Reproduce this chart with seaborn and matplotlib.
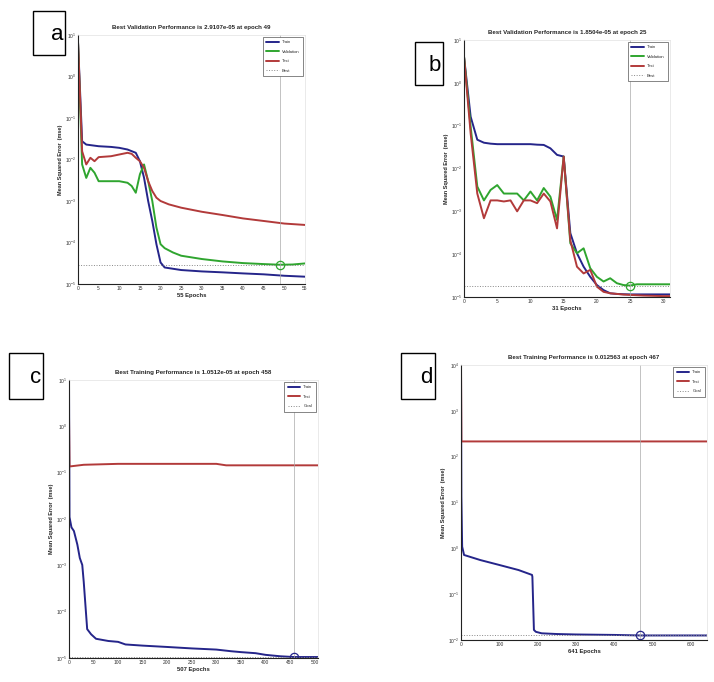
import matplotlib
matplotlib.use("Agg")
import matplotlib.pyplot as plt
import seaborn as sns
import pandas as pd
from matplotlib.patches import Rectangle
from matplotlib.ticker import NullFormatter, FixedLocator, LogFormatterMathtext

sns.set_theme(style="white")
plt.rcParams['font.family'] = ['Liberation Sans', 'DejaVu Sans']

# ---------------- Panel a ----------------
a_train_epochs = [0, 1, 2, 5, 8, 10, 12, 14, 15, 16, 17, 18, 19, 20, 21, 25, 30, 35, 40, 45, 50, 55]
a_train = [6.9, 0.0275, 0.0229, 0.0209, 0.0201, 0.0191, 0.0174, 0.0145, 0.0091, 0.00363, 0.001,
           3.3e-4, 9.1e-5, 3.3e-5, 2.5e-5, 2.17e-5, 2.01e-5, 1.91e-5, 1.80e-5, 1.71e-5, 1.58e-5, 1.50e-5]
a_val_epochs = [0, 1, 2, 3, 4, 5, 7, 10, 12, 13, 14, 15, 16, 17, 18, 19, 20, 21, 23, 25, 30, 35,
                40, 45, 49, 52, 55]
a_val = [6.9, 0.0076, 0.0036, 0.0063, 0.0048, 0.0030, 0.0030, 0.0030, 0.00275, 0.0023, 0.00158,
         0.0044, 0.0076, 0.0030, 0.001, 2.3e-4, 9.1e-5, 7.3e-5, 5.75e-5, 4.8e-5, 4.0e-5, 3.5e-5,
         3.19e-5, 3.02e-5, 2.91e-5, 2.95e-5, 3.13e-5]
a_test_epochs = [0, 1, 2, 3, 4, 5, 8, 10, 12, 13, 14, 15, 16, 17, 18, 19, 20, 22, 25, 30, 35, 40,
                 45, 50, 55]
a_test = [6.9, 0.0158, 0.0076, 0.011, 0.0091, 0.0114, 0.012, 0.0132, 0.0145, 0.0137, 0.011, 0.0091,
          0.0063, 0.0030, 0.00174, 0.0012, 0.001, 8.3e-4, 6.9e-4, 5.5e-4, 4.6e-4, 3.8e-4, 3.3e-4,
          2.86e-4, 2.65e-4]
a_best_epoch, a_best = 49, 2.91e-5
a_title = "Best Validation Performance is 2.9107e-05 at epoch 49"
a_xlabel = "55 Epochs"

# ---------------- Panel b ----------------
b_epochs = list(range(0, 32))
b_train = [4.1, 0.162, 0.047, 0.040, 0.038, 0.037, 0.037, 0.037, 0.037, 0.037, 0.037, 0.036,
           0.0355, 0.0296, 0.0208, 0.019, 3.1e-4, 1.05e-4, 5.1e-5, 2.96e-5, 1.9e-5, 1.45e-5,
           1.22e-5, 1.18e-5, 1.16e-5, 1.15e-5, 1.15e-5, 1.15e-5, 1.15e-5, 1.15e-5, 1.15e-5, 1.15e-5]
b_val = [4.1, 0.095, 0.0038, 0.0018, 0.00316, 0.0041, 0.0026, 0.0026, 0.0026, 0.0018, 0.0029,
         0.0018, 0.0035, 0.0022, 6.3e-4, 0.019, 1.8e-4, 1.05e-4, 1.37e-4, 4.7e-5, 2.96e-5, 2.3e-5,
         2.74e-5, 2.1e-5, 1.9e-5, 1.85e-5, 1.98e-5, 1.98e-5, 1.98e-5, 1.98e-5, 1.98e-5, 1.98e-5]
b_test = [4.1, 0.066, 0.0026, 6.9e-4, 0.0018, 0.0018, 0.0017, 0.0018, 0.001, 0.0018, 0.0018,
          0.00155, 0.0026, 0.0017, 4.0e-4, 0.019, 2.1e-4, 5.1e-5, 3.55e-5, 4.3e-5, 1.74e-5,
          1.32e-5, 1.22e-5, 1.18e-5, 1.14e-5, 1.12e-5, 1.1e-5, 1.08e-5, 1.07e-5, 1.06e-5, 1.05e-5,
          1.05e-5]
b_best_epoch, b_best = 25, 1.85e-5
b_title = "Best Validation Performance is 1.8504e-05 at epoch 25"
b_xlabel = "31 Epochs"

# ---------------- Panel c ----------------
c_train_epochs = [0, 1, 5, 10, 17, 22, 27, 30, 37, 45, 55, 80, 100, 115, 150, 200, 250, 300, 330,
                  350, 380, 400, 430, 458, 480, 507]
c_train = [11, 0.011, 0.0066, 0.0055, 0.0028, 0.00144, 0.00102, 4.4e-4, 4.2e-5, 3.25e-5, 2.6e-5,
           2.33e-5, 2.23e-5, 1.96e-5, 1.85e-5, 1.73e-5, 1.61e-5, 1.52e-5, 1.40e-5, 1.34e-5,
           1.27e-5, 1.17e-5, 1.09e-5, 1.05e-5, 1.05e-5, 1.05e-5]
c_test_epochs = [0, 1, 30, 100, 200, 300, 320, 400, 507]
c_test = [1.7, 0.136, 0.148, 0.155, 0.155, 0.155, 0.144, 0.144, 0.144]
c_best_epoch, c_best = 458, 1.05e-5
c_title = "Best Training Performance is 1.0512e-05 at epoch 458"
c_xlabel = "507 Epochs"

# ---------------- Panel d ----------------
d_train_epochs = [0, 1, 3, 5, 8, 50, 100, 150, 185, 186, 190, 195, 210, 250, 300, 400, 467, 641]
d_train = [1.1e4, 13.5, 1.09, 0.92, 0.716, 0.556, 0.433, 0.336, 0.263, 0.24, 0.0166, 0.0151,
           0.0140, 0.0135, 0.0132, 0.0129, 0.012563, 0.012563]
d_test_epochs = [0, 1, 641]
d_test = [1.1e4, 215, 215]
d_best_epoch, d_best = 467, 0.012563
d_title = "Best Training Performance is 0.012563 at epoch 467"
d_xlabel = "641 Epochs"

BLUE = "#25258a"
GREEN = "#2fa52f"
RED = "#b23a3a"

W, H = 714, 682
fig = plt.figure(figsize=(W / 100, H / 100), dpi=100)


def px_axes(l, t, r, b):
    return fig.add_axes([l / W, 1 - b / H, (r - l) / W, (b - t) / H])


def style(ax, xlim, xticks, ylim_exp, title, xlabel):
    ax.set_yscale("log")
    ax.set_xlim(*xlim)
    lo, hi = ylim_exp
    ax.set_ylim(10.0 ** lo, 10.0 ** hi)
    ax.xaxis.set_major_locator(FixedLocator(xticks))
    ax.yaxis.set_major_locator(FixedLocator([10.0 ** e for e in range(lo, hi + 1)]))
    ax.yaxis.set_major_formatter(LogFormatterMathtext())
    minors = [m * 10.0 ** e for e in range(lo, hi) for m in range(2, 10)]
    ax.yaxis.set_minor_locator(FixedLocator(minors))
    ax.yaxis.set_minor_formatter(NullFormatter())
    ax.tick_params(axis="both", which="major", labelsize=3.5, length=2, width=0.5, pad=1.5,
                   direction="in", colors="#333333")
    ax.tick_params(axis="y", which="minor", length=1, width=0.3, direction="in")
    ax.set_title(title, fontsize=4.4, fontweight="bold", pad=4)
    ax.set_xlabel(xlabel, fontsize=4.2, fontweight="bold", labelpad=1.5)
    ax.set_ylabel("Mean Squared Error  (mse)", fontsize=4, fontweight="bold", labelpad=1.5)
    for s in ["left", "bottom"]:
        ax.spines[s].set_color("#222222")
        ax.spines[s].set_linewidth(0.8)
    for s in ["top", "right"]:
        ax.spines[s].set_color("#e2e2e2")
        ax.spines[s].set_linewidth(0.5)
    ax.legend(loc="upper right", fontsize=3, frameon=True, fancybox=False, edgecolor="#555555",
              handlelength=3, borderpad=0.8, labelspacing=1.3, framealpha=1)
    ax.get_legend().get_frame().set_linewidth(0.5)


# Panel a
ax_a = px_axes(78, 35, 305, 284)
sns.lineplot(x=a_train_epochs, y=a_train, ax=ax_a, color=BLUE, lw=1.4, label="Train")
sns.lineplot(x=a_val_epochs, y=a_val, ax=ax_a, color=GREEN, lw=1.4, label="Validation")
sns.lineplot(x=a_test_epochs, y=a_test, ax=ax_a, color=RED, lw=1.4, label="Test")
ax_a.axhline(a_best, color="#888888", ls=":", lw=0.7, label="Best")
ax_a.axvline(a_best_epoch, color="#aaaaaa", lw=0.5)
ax_a.plot([a_best_epoch], [a_best], marker="o", ms=6, mfc="none", mec=GREEN, mew=0.9)
style(ax_a, (0, 55), list(range(0, 56, 5)), (-5, 1), a_title, a_xlabel)

# Panel b
ax_b = px_axes(464, 40, 670, 297)
sns.lineplot(x=b_epochs, y=b_train, ax=ax_b, color=BLUE, lw=1.4, label="Train")
sns.lineplot(x=b_epochs, y=b_val, ax=ax_b, color=GREEN, lw=1.4, label="Validation")
sns.lineplot(x=b_epochs, y=b_test, ax=ax_b, color=RED, lw=1.4, label="Test")
ax_b.axhline(b_best, color="#888888", ls=":", lw=0.7, label="Best")
ax_b.axvline(b_best_epoch, color="#aaaaaa", lw=0.5)
ax_b.plot([b_best_epoch], [b_best], marker="o", ms=6, mfc="none", mec=GREEN, mew=0.9)
style(ax_b, (0, 31), list(range(0, 31, 5)), (-5, 1), b_title, b_xlabel)

# Panel c
ax_c = px_axes(69, 380, 318, 658)
sns.lineplot(x=c_train_epochs, y=c_train, ax=ax_c, color=BLUE, lw=1.4, label="Train")
sns.lineplot(x=c_test_epochs, y=c_test, ax=ax_c, color=RED, lw=1.4, label="Test")
ax_c.axhline(c_best, color="#888888", ls=":", lw=0.7, label="Goal")
ax_c.axvline(c_best_epoch, color="#aaaaaa", lw=0.5)
ax_c.plot([c_best_epoch], [c_best], marker="o", ms=6, mfc="none", mec=BLUE, mew=0.9)
style(ax_c, (0, 507), list(range(0, 501, 50)), (-5, 1), c_title, c_xlabel)

# Panel d
ax_d = px_axes(461, 365, 707, 640)
sns.lineplot(x=d_train_epochs, y=d_train, ax=ax_d, color=BLUE, lw=1.4, label="Train")
sns.lineplot(x=d_test_epochs, y=d_test, ax=ax_d, color=RED, lw=1.4, label="Test")
ax_d.axhline(d_best, color="#888888", ls=":", lw=0.7, label="Goal")
ax_d.axvline(d_best_epoch, color="#aaaaaa", lw=0.5)
ax_d.plot([d_best_epoch], [d_best], marker="o", ms=6, mfc="none", mec=BLUE, mew=0.9)
style(ax_d, (0, 641), list(range(0, 601, 100)), (-2, 4), d_title, d_xlabel)

# Panel label boxes
boxes = [("a", 33, 11, 65, 55), ("b", 415, 42, 443, 85), ("c", 9, 353, 43, 399),
         ("d", 401, 353, 435, 399)]
for lab, l, t, r, b in boxes:
    fig.patches.append(Rectangle((l / W, 1 - b / H), (r - l) / W, (b - t) / H,
                                 transform=fig.transFigure, fill=True, facecolor="white",
                                 edgecolor="black", lw=1.0, zorder=10))
    fig.text((r - 2) / W, 1 - ((t + b) / 2 + 2) / H, lab, ha="right", va="center",
             fontsize=16, color="black", zorder=11, family=["Liberation Sans"])

fig.savefig("out.png", dpi=100)
